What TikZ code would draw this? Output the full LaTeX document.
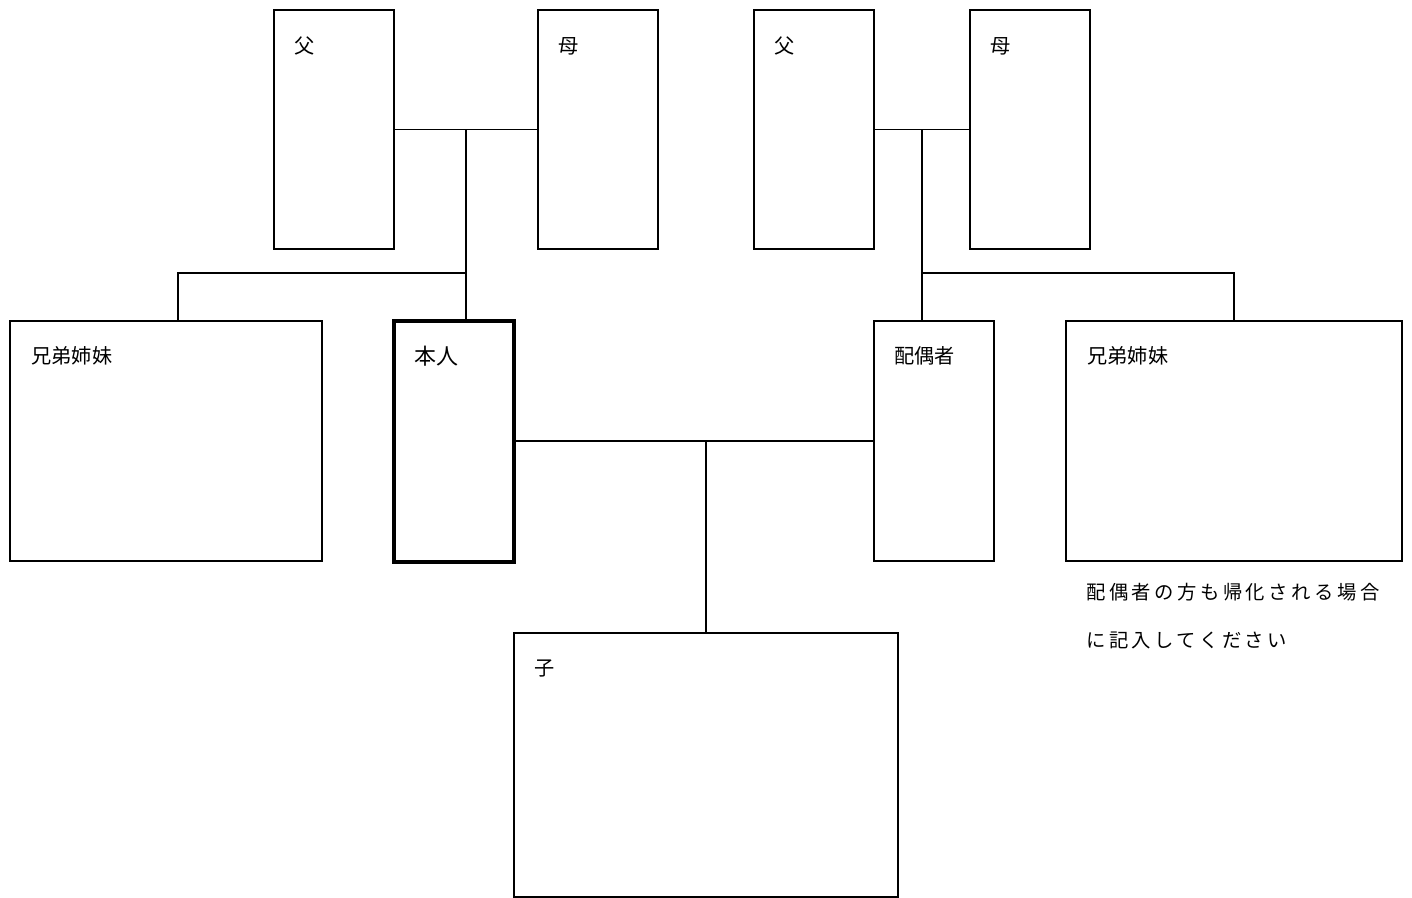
\documentclass[tikz,border=0pt]{standalone}
\usepackage{fontspec}
\usetikzlibrary{calc}
\setmainfont{Noto Sans CJK JP}
\newfontfamily\spacedfont[LetterSpace=18]{Noto Sans CJK JP}
\begin{document}
\begin{tikzpicture}[x=0.02cm,y=-0.02cm,
  box/.style={draw,line width=0.9pt,inner sep=0pt,minimum width=#1*0.02cm},
  bh/.style={minimum height=#1*0.02cm},
  lbl/.style={anchor=west,inner sep=0pt,font=\fontsize{11.5pt}{13pt}\selectfont},
  conn/.style={line width=0.9pt},
  note/.style={anchor=west,inner sep=0pt,font=\fontsize{11pt}{12pt}\spacedfont}]
\useasboundingbox (0,0) rectangle (1412,898);
% boxes
\node[box=120,bh=239] (fL) at (334,129.5) {};
\node[box=120,bh=239] (mL) at (598,129.5) {};
\node[box=120,bh=239] (fR) at (814,129.5) {};
\node[box=120,bh=239] (mR) at (1030,129.5) {};
\node[box=312,bh=240] (sL) at (166,441) {};
\node[box=120,bh=241,line width=2.3pt] (hon) at (454,441.5) {};
\node[box=120,bh=240] (sp) at (934,441) {};
\node[box=336,bh=240] (sR) at (1234,441) {};
\node[box=384,bh=264] (ch) at (706,765) {};
% labels
\node[lbl] (tfL) at ([shift={(21,37)}]fL.north west) {父};
\node[lbl] (tmL) at ([shift={(21,37)}]mL.north west) {母};
\node[lbl] (tfR) at ([shift={(21,37)}]fR.north west) {父};
\node[lbl] (tmR) at ([shift={(21,37)}]mR.north west) {母};
\node[lbl] (tsL) at ([shift={(22,36)}]sL.north west) {兄弟姉妹};
\node[lbl,font=\fontsize{12.5pt}{14pt}\selectfont] (thon) at ([shift={(22,37)}]hon.north west) {本人};
\node[lbl] (tsp) at ([shift={(21,36)}]sp.north west) {配偶者};
\node[lbl] (tsR) at ([shift={(22,36)}]sR.north west) {兄弟姉妹};
\node[lbl] (tch) at ([shift={(21,36)}]ch.north west) {子};
\node[note] (n1) at (1086,592) {配偶者の方も帰化される場合};
\node[note] (n2) at (1086,640) {に記入してください};
% junctions
\coordinate (jL) at ($(fL.east)!0.5!(mL.west)$);
\coordinate (jR) at ($(fR.east)!0.5!(mR.west)$);
\coordinate (bL) at (178,273);
\coordinate (bR) at (1234,273);
% connectors
\draw[conn] (fL.east) -- (mL.west);
\draw[conn] (jL) -- (jL |- hon.north);
\draw[conn] (jL |- bL) -- (bL) -- (bL |- sL.north);
\draw[conn] (fR.east) -- (mR.west);
\draw[conn] (jR) -- (jR |- sp.north);
\draw[conn] (jR |- bR) -- (bR) -- (sR.north);
\draw[conn] (hon.east |- sp.west) -- (sp.west);
\draw[conn] (ch.north) -- (ch.north |- sp.west);
\end{tikzpicture}
\end{document}
